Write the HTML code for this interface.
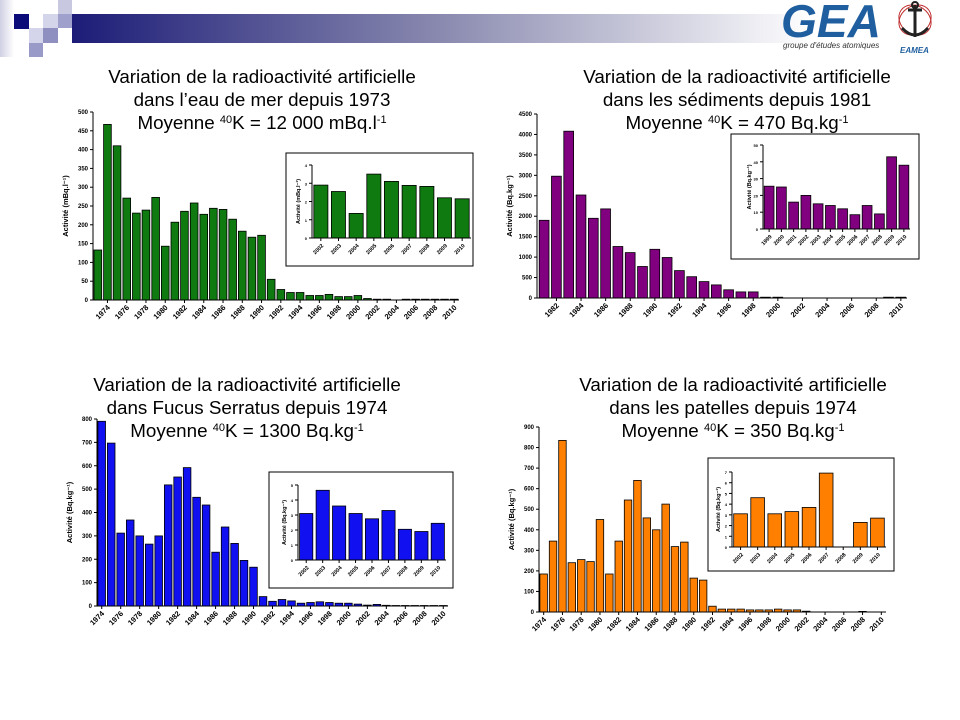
<!DOCTYPE html>
<html><head><meta charset="utf-8"><style>
body{margin:0;background:#fff;width:960px;height:720px;overflow:hidden}
svg{display:block}
</style></head><body>
<svg id="s" width="960" height="720" xmlns="http://www.w3.org/2000/svg" font-family="Liberation Sans, Arial, sans-serif">
<defs><linearGradient id="g" x1="0" x2="1"><stop offset="0" stop-color="#1c1c78"/><stop offset="0.5" stop-color="#8a8ab0"/><stop offset="1" stop-color="#fff"/></linearGradient>
<linearGradient id="g2" x1="0" x2="1"><stop offset="0" stop-color="#d0d0e4"/><stop offset="1" stop-color="#fff"/></linearGradient></defs>
<rect x="72" y="14" width="740" height="29" fill="url(#g)"/>
<rect x="0" y="0" width="14" height="57" fill="url(#g2)"/>
<rect x="14" y="14" width="15" height="15" fill="#0a0a78"/>
<rect x="58" y="0" width="14" height="14" fill="#c8c8e0"/>
<rect x="43" y="14" width="15" height="14" fill="#d4d4ea"/>
<rect x="58" y="14" width="14" height="14" fill="#a0a0cc"/>
<rect x="29" y="28" width="14" height="15" fill="#d4d4ea"/>
<rect x="43" y="28" width="15" height="15" fill="#9090c0"/>
<rect x="29" y="43" width="14" height="14" fill="#9a9ac8"/>
<text x="781" y="37" font-size="46" font-weight="bold" font-style="italic" fill="#1f5f9f" textLength="100" lengthAdjust="spacingAndGlyphs">GEA</text>
<text x="783" y="48" font-size="8" font-style="italic" fill="#333">groupe d'études atomiques</text>
<text x="900" y="53" font-size="8" font-weight="bold" font-style="italic" fill="#1f5f9f">EAMEA</text>
<ellipse cx="915" cy="20" rx="17" ry="14" fill="none" stroke="#c03030" stroke-width="1" transform="rotate(35 915 20)"/>
<ellipse cx="915" cy="20" rx="17" ry="14" fill="none" stroke="#c03030" stroke-width="1" transform="rotate(-35 915 20)"/>
<path d="M915 5v32M908 10h14M902 28q13 14 26 0" stroke="#222" stroke-width="3" fill="none"/>
<circle cx="915" cy="5" r="3" fill="none" stroke="#222" stroke-width="2"/>
<g id="c"></g>
</svg>
<script>
const G=document.getElementById('c');let h='';
function T(x,y,l1,l2,unit){
 h+=`<text x="${x}" y="${y}" font-size="18.8" text-anchor="middle">Variation de la radioactivité artificielle</text>`;
 h+=`<text x="${x}" y="${y+23}" font-size="18.8" text-anchor="middle">${l1}</text>`;
 h+=`<text x="${x}" y="${y+46}" font-size="18.8" text-anchor="middle">Moyenne <tspan font-size="11" dy="-6">40</tspan><tspan dy="6">K = ${l2}</tspan><tspan font-size="11" dy="-6">${unit}</tspan></text>`;
}
function C(o){
 const {ax,base,top,max,x0,x1,vals,col,step,ylab,labs,lab0,fs,box}=o;
 if(box)h+=`<rect x="${box[0]}" y="${box[1]}" width="${box[2]-box[0]}" height="${box[3]-box[1]}" fill="#fff" stroke="#000" stroke-width="1"/>`;
 const n=vals.length,p=(x1-x0)/n,bw=p*0.8;
 vals.forEach((v,i)=>{const hh=v/max*(base-top);if(hh>0.3)h+=`<rect x="${(x0+i*p+p*0.1).toFixed(1)}" y="${(base-hh).toFixed(1)}" width="${bw.toFixed(1)}" height="${hh.toFixed(1)}" fill="${col}" stroke="#000" stroke-width="0.8"/>`;});
 h+=`<line x1="${ax}" y1="${top}" x2="${ax}" y2="${base}" stroke="#000" stroke-width="1"/><line x1="${ax}" y1="${base}" x2="${x1}" y2="${base}" stroke="#000" stroke-width="1"/>`;
 for(let v=0;v<=max+1e-9;v+=step){const y=base-v/max*(base-top);h+=`<line x1="${ax-3}" y1="${y}" x2="${ax}" y2="${y}" stroke="#000"/><text x="${ax-5}" y="${y+2}" font-size="${fs}" font-weight="bold" text-anchor="end">${+v.toFixed(2)}</text>`;}
 h+=`<text transform="translate(${ax-(o.yl||25)},${(base+top)/2}) rotate(-90)" font-size="${fs+1.5}" font-weight="bold" text-anchor="middle">${ylab}</text>`;
 labs.forEach((l,k)=>{const i=lab0+k*(o.ls||2);const x=x0+i*p+p/2;h+=`<line x1="${x}" y1="${base}" x2="${x}" y2="${base+3}" stroke="#000"/><text transform="translate(${x+3},${base+8}) rotate(-45)" font-size="${fs+1.5}" font-weight="bold" text-anchor="end">${l}</text>`;});
}
const yrs=(a,b,s)=>{let r=[];for(let y=a;y<=b;y+=s)r.push(y);return r};
T(262,83,"dans l’eau de mer depuis 1973","12 000 mBq.l","-1");
C({ax:93,base:300,top:112,max:500,x0:93,x1:459,col:"#0f7a0f",step:50,fs:6,ylab:"Activité (mBq.l⁻¹)",labs:yrs(1974,2010,2),lab0:1,
vals:[133,467,410,271,231,239,273,143,207,236,258,228,244,241,215,183,167,172,55,28,20,20,12,12,15,9,9,12,4,2,2,0,2,2,2,2,2,2]});
C({ax:312,base:238,top:165,max:4,x0:312,x1:471,col:"#0f7a0f",step:1,fs:4,yl:12,ylab:"Activité (mBq.l⁻¹)",labs:yrs(2002,2010,1),lab0:0,ls:1,box:[286,153,473,266],
vals:[2.9,2.55,1.35,3.5,3.1,2.88,2.83,2.2,2.15]});
T(737,83,"dans les sédiments depuis 1981","470 Bq.kg","-1");
C({ax:537,base:298,top:114,max:4500,x0:538,x1:907,col:"#800080",step:500,fs:6,ylab:"Activité (Bq.kg⁻¹)",labs:yrs(1982,2010,2),lab0:1,
vals:[1900,2980,4080,2520,1950,2180,1260,1110,770,1190,990,670,520,400,320,200,150,150,20,20,0,0,0,0,0,0,0,0,20,20]});
C({ax:763,base:229,top:145,max:50,x0:763,x1:910,col:"#800080",step:10,fs:4,yl:12,ylab:"Activité (Bq.kg⁻¹)",labs:yrs(1999,2010,1),lab0:0,ls:1,box:[731,134,919,259],
vals:[25.5,25,16,20,15,14,12,8.5,14,9,43,38]});
T(247,391,"dans Fucus Serratus depuis 1974","1300 Bq.kg","-1");
C({ax:97,base:606,top:419,max:800,x0:97,x1:448,col:"#1010f0",step:100,fs:6,ylab:"Activité (Bq.kg⁻¹)",labs:yrs(1974,2010,2),lab0:0,
vals:[790,697,312,368,300,265,300,518,552,592,465,432,230,338,268,195,166,40,20,28,22,12,15,18,15,12,12,8,4,7,3,2,2,2,2,2,2]});
C({ax:298,base:560,top:485,max:5,x0:298,x1:446,col:"#1010f0",step:1,fs:4,yl:12,ylab:"Activité (Bq.kg⁻¹)",labs:yrs(2002,2010,1),lab0:0,ls:1,box:[269,472,453,588],
vals:[3.1,4.65,3.6,3.1,2.75,3.3,2.05,1.9,2.45]});
T(733,391,"dans les patelles depuis 1974","350 Bq.kg","-1");
C({ax:539,base:612,top:427,max:900,x0:539,x1:886,col:"#ff8000",step:100,fs:6,ylab:"Activité (Bq.kg⁻¹)",labs:yrs(1974,2010,2),lab0:0,
vals:[185,345,835,240,255,245,450,185,345,545,640,458,400,525,318,340,165,155,28,14,14,14,10,10,10,14,10,10,4,0,0,0,0,0,3,0,0]});
C({ax:732,base:547,top:472,max:7,x0:732,x1:886,col:"#ff8000",step:1,fs:4,yl:12,ylab:"Activité (Bq.kg⁻¹)",labs:yrs(2002,2010,1),lab0:0,ls:1,box:[708,458,894,571],
vals:[3.1,4.6,3.1,3.3,3.7,6.9,0,2.3,2.7]});
G.innerHTML=h;
</script>
</body></html>
